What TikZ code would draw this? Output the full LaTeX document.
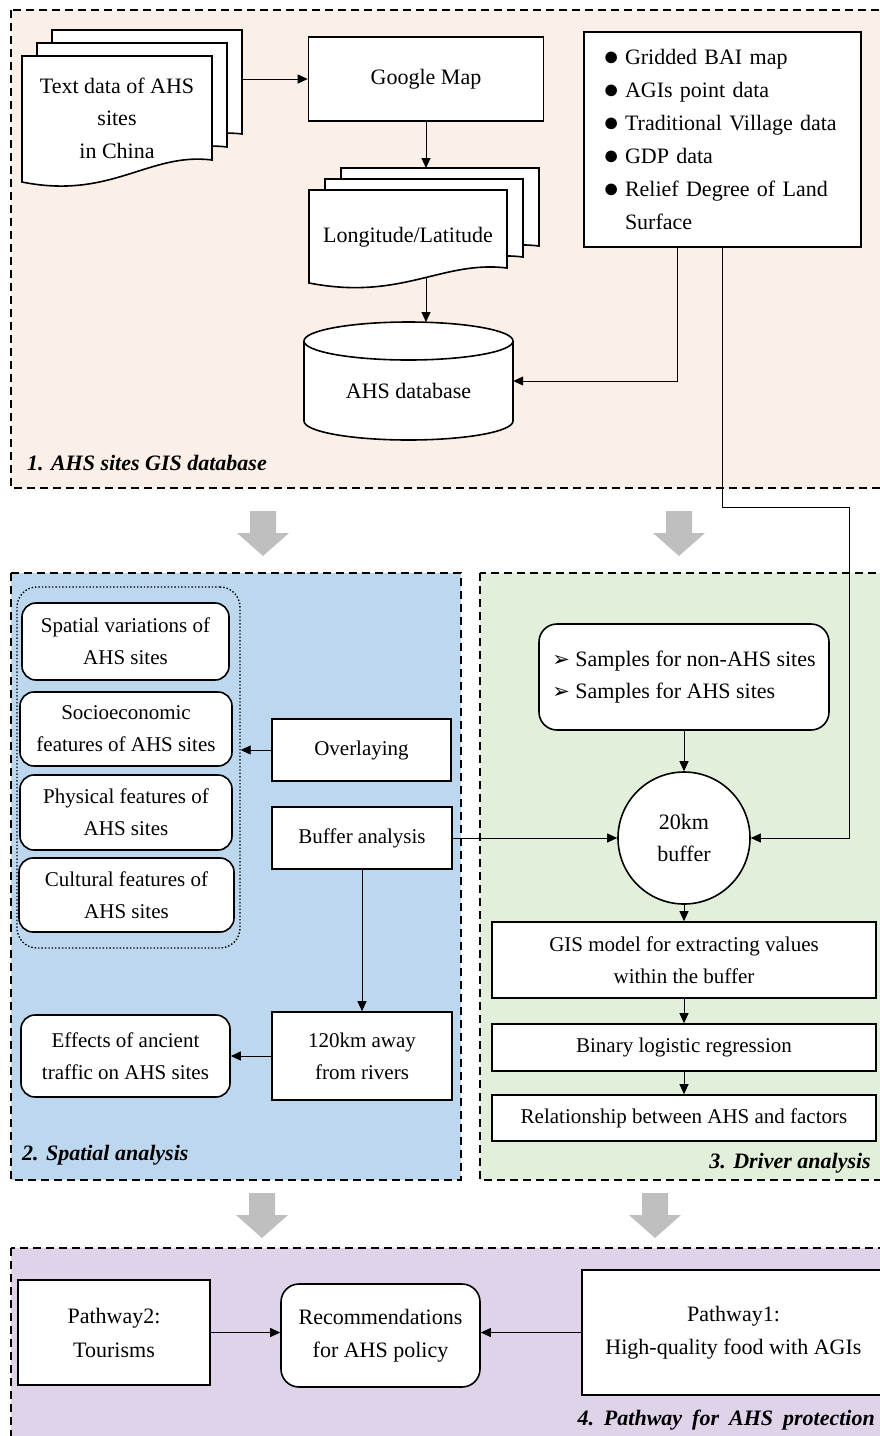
\documentclass[tikz,border=0pt]{standalone}
\usepackage{fontspec}
\setmainfont{Liberation Serif}
\newfontfamily\symfont{DejaVu Sans}
\usetikzlibrary{arrows.meta,positioning}

\definecolor{peach}{HTML}{FBF0E7}
\definecolor{skyblue}{HTML}{BDD7EE}
\definecolor{palegreen}{HTML}{E2EFDA}
\definecolor{lilac}{HTML}{DFD3EA}
\newcommand{\bul}{\makebox[22pt][l]{\raisebox{-1pt}{\fontsize{27}{33}\selectfont ●}}}
\newcommand{\tip}{{\symfont\fontsize{21}{32}\selectfont ➢}}

\begin{document}
\begin{tikzpicture}[x=1pt,y=-1pt,font=\fontsize{21}{32}\selectfont,>={Triangle[length=10pt,width=9pt]}]
        \tikzstyle{panel}=[draw,line width=1.8pt,dash pattern=on 8pt off 5pt]
        \tikzstyle{box}=[draw,fill=white,line width=1.6pt,align=center,inner sep=2pt]
        \tikzstyle{rbox}=[box,rounded corners=14pt]
        \tikzstyle{doc}=[draw,fill=white,line width=1.6pt]
        \tikzstyle{arr}=[->,line width=0.9pt]
        \tikzstyle{big}=[font=\fontsize{22}{32.5}\selectfont]
        \tikzstyle{title}=[font=\fontsize{22}{26}\selectfont\bfseries\itshape,inner sep=0pt]
        \useasboundingbox (0,0) rectangle (879,1436);
        % panels
        \draw[panel,fill=peach] (11,10) rectangle (890,488);
        \draw[panel,fill=skyblue] (11,573) rectangle (461,1180);
        \draw[panel,fill=palegreen] (480,573) rectangle (890,1180);
        \draw[panel,fill=lilac] (11,1248) rectangle (890,1450);
        \foreach \x/\y in {263/511,679/511,262/1193,655/1193}
          \fill[gray!50] (\x-13,\y) -- (\x+13,\y) -- (\x+13,\y+22) -- (\x+26,\y+22) -- (\x,\y+45) -- (\x-26,\y+22) -- (\x-13,\y+22) -- cycle;

        % 1. database
        \foreach \d in {2,1,0}
          \draw[doc,shift={(15*\d,-13*\d)}] (22,56) -- (212,56) -- (212,160) .. controls (149,152) and (111,200) .. (22,182) -- cycle;
        \node[big,align=center] (txtdata) at (117,118) {Text data of AHS\\sites\\in China};
        \node[box,big,minimum width=235pt,minimum height=84pt] (gmap) at (426,79) {Google Map};
        \foreach \d in {2,1,0}
          \draw[doc,shift={(16*\d,-11*\d)}] (309,190) -- (507,190) -- (507,268) .. controls (442,260) and (402,301) .. (309,283) -- cycle;
        \node[big] (longlat) at (408,237) {Longitude/Latitude};
        \draw[doc] (304,341) -- (304,421) arc[start angle=180,end angle=360,x radius=104.5pt,y radius=19pt] -- (513,341);
        \draw[doc] (408.5,341) ellipse[x radius=104.5pt,y radius=19pt];
        \node[big,minimum width=209pt,minimum height=100pt] (ahsdb) at (408.5,391) {AHS database};
        \node[box,align=left,text width=239pt,inner xsep=19pt,minimum height=215pt,font=\fontsize{22}{33}\selectfont] (data) at (722.5,139.5)
          {\bul Gridded BAI map\\ \bul AGIs point data\\ \bul Traditional Village data\\ \bul GDP data\\ \bul Relief Degree of Land\\ \hspace*{22pt}Surface};
        \node[title,anchor=west] (t1) at (27,463) {1. AHS sites GIS database};
        \coordinate (txtout) at (242,79);
        \coordinate (lltop) at (426,168);
        \coordinate (llbot) at (426,278);
        \coordinate (dbtop) at (426,322);
        \coordinate (bend) at (849,507);
        \draw[arr] (txtout) -- (gmap.west);
        \draw[arr] (gmap.south) -- (lltop);
        \draw[arr] (llbot) -- (dbtop);
        \draw[arr] ([xshift=-45.5pt]data.south) |- ([yshift=10pt]ahsdb.east);

        % 2. spatial analysis
        \node[draw,dotted,line width=1.4pt,rounded corners=20pt,minimum width=223pt,minimum height=361pt] (group) at (128.5,767.5) {};
        \node[rbox,minimum width=207pt,minimum height=77pt] (spvar) at (125.5,641.5) {Spatial variations of\\AHS sites};
        \node[rbox,minimum width=212pt,minimum height=74pt] (socio) at (126,729) {Socioeconomic\\features of AHS sites};
        \node[rbox,minimum width=212pt,minimum height=75pt] (phys) at (126,812.5) {Physical features of\\AHS sites};
        \node[rbox,minimum width=215pt,minimum height=74pt] (cult) at (126.5,895) {Cultural features of\\AHS sites};
        \node[box,minimum width=179pt,minimum height=62pt] (over) at (361.5,750) {Overlaying};
        \node[box,minimum width=180pt,minimum height=62pt] (bufan) at (362,838) {Buffer analysis};
        \node[box,minimum width=180pt,minimum height=88pt] (away) at (362,1056) {120km away\\from rivers};
        \node[rbox,minimum width=209pt,minimum height=82pt] (effect) at (125.5,1056) {Effects of ancient\\traffic on AHS sites};
        \node[title,anchor=west] (t2) at (22,1155) {2. Spatial analysis};
        \draw[arr] (over.west) -- (over.west -| group.east);
        \draw[arr] (bufan.south) -- (away.north);
        \draw[arr] (away.west) -- (effect.east);

        % 3. driver analysis
        \node[rbox,big,rounded corners=18pt,align=left,minimum width=290pt,minimum height=106pt] (samples) at (684,677)
          {\tip\ Samples for non-AHS sites\\\tip\ Samples for AHS sites};
        \node[box,circle,big,minimum size=132pt] (buf) at (684,838) {20km\\buffer};
        \node[box,minimum width=384pt,minimum height=76pt] (gis) at (684,960) {GIS model for extracting values\\within the buffer};
        \node[box,minimum width=384pt,minimum height=47pt] (binary) at (684,1047.5) {Binary logistic regression};
        \node[box,minimum width=384pt,minimum height=46pt] (relat) at (684,1118) {Relationship between AHS and factors};
        \node[title,anchor=east] (t3) at (871,1163) {3. Driver analysis};
        \draw[arr] (samples.south) -- (buf.north);
        \draw[arr] (buf.south) -- (gis.north);
        \draw[arr] (gis.south) -- (binary.north);
        \draw[arr] (binary.south) -- (relat.north);
        \draw[arr] (bufan.east) -- (buf.west);
        \draw[arr] (data.south) |- (bend) |- (buf.east);

        % 4. pathways
        \node[box,minimum width=192pt,minimum height=105pt,font=\fontsize{22}{34}\selectfont] (path2) at (114,1332.5) {Pathway2:\\Tourisms};
        \node[rbox,rounded corners=18pt,minimum width=199pt,minimum height=103pt,font=\fontsize{22}{33}\selectfont] (recom) at (380.5,1335.5) {Recommendations\\for AHS policy};
        \node[box,minimum width=303pt,minimum height=125pt,font=\fontsize{22}{33}\selectfont] (path1) at (733.5,1332.5) {Pathway1:\\High-quality food with AGIs};
        \node[title,anchor=east] (t4) at (875,1420) {4.\hspace{10pt}Pathway\hspace{10pt}for\hspace{10pt}AHS\hspace{10pt}protection};
        \draw[arr] (path2.east) -- (path2.east -| recom.west);
        \draw[arr] (path1.west) -- (path1.west -| recom.east);
    \end{tikzpicture}
\end{document}
